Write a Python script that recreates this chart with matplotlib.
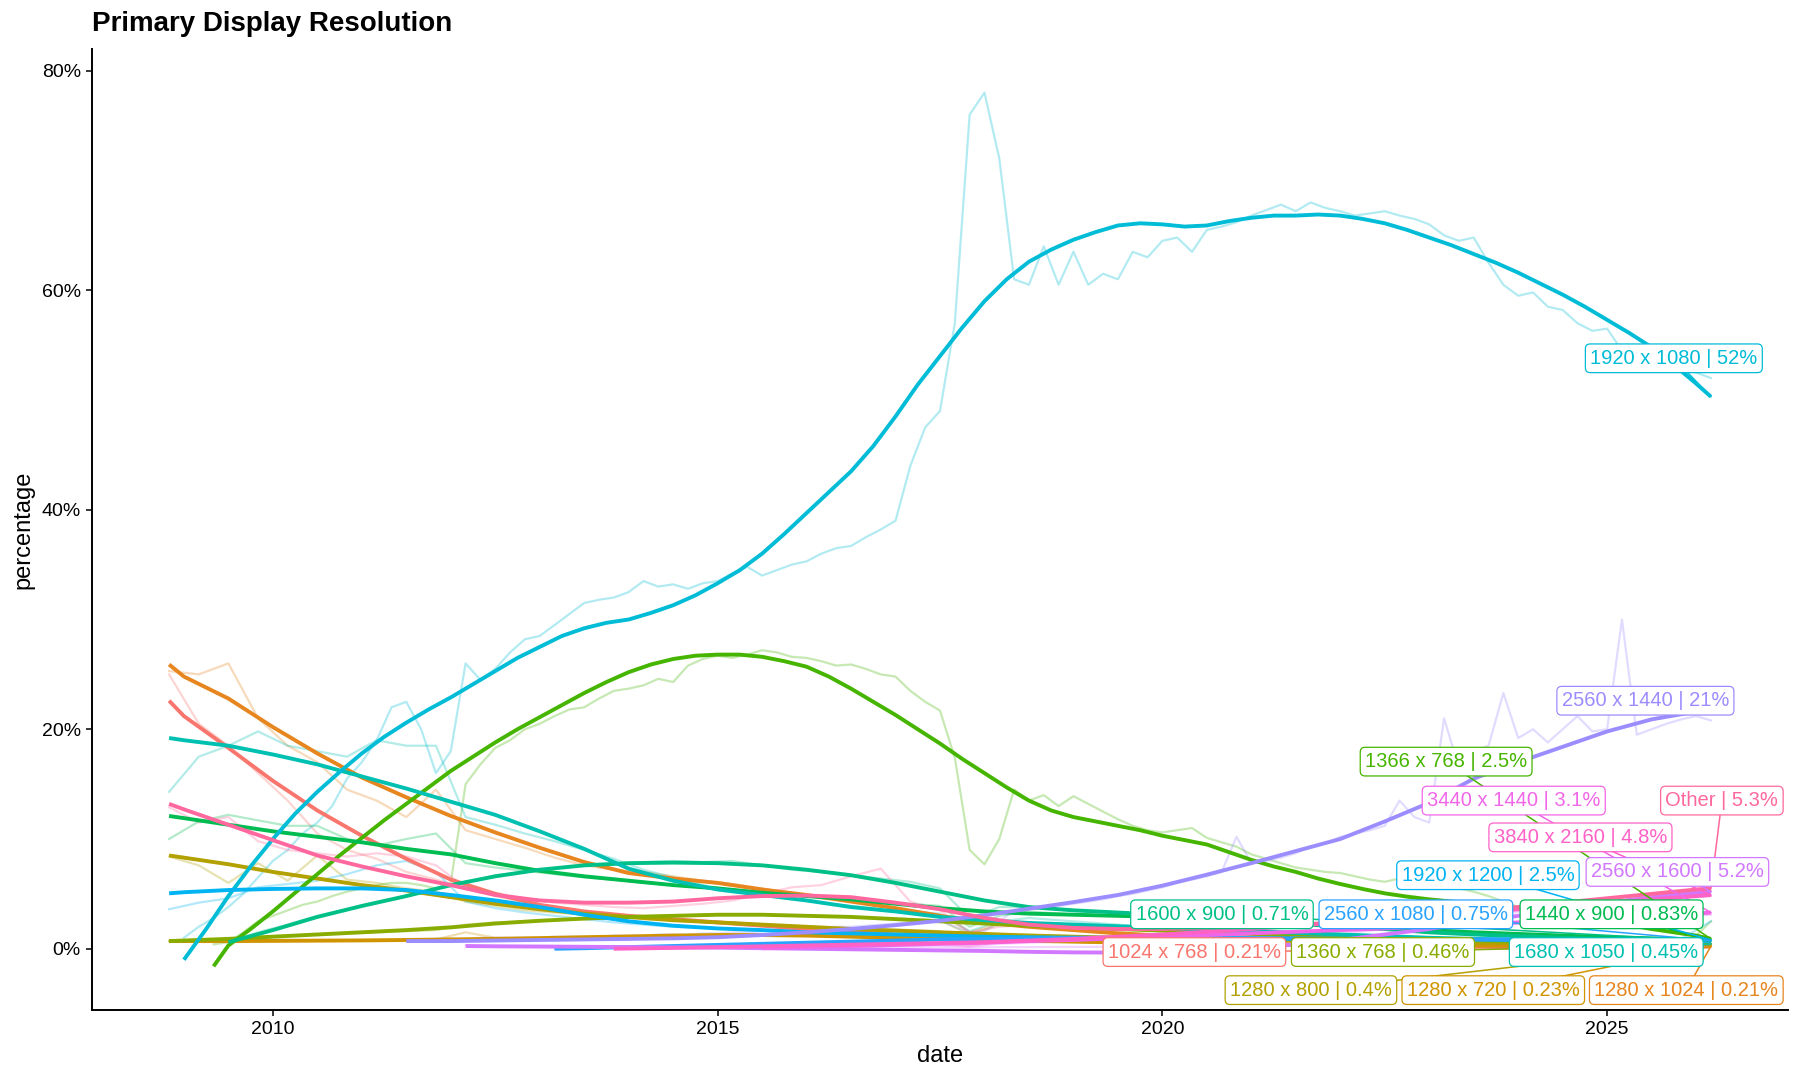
import numpy as np
import matplotlib
matplotlib.use("Agg")
import matplotlib.pyplot as plt

plt.rcParams['font.family'] = ['Liberation Sans', 'DejaVu Sans']

# last survey month, every series ends here
END = 2026 + 2/12

names = ["1024 x 768", "1280 x 1024", "1280 x 720", "1280 x 800", "1360 x 768",
         "1366 x 768", "1440 x 900", "1600 x 900", "1680 x 1050", "1920 x 1080",
         "1920 x 1200", "2560 x 1080", "2560 x 1440", "2560 x 1600", "3440 x 1440",
         "3840 x 2160", "Other"]

########################################
# monthly survey share (%)
# step of 1/6 year for the three big ones, 1/3 year for the rest
########################################
raw_1024x768 = [25.0,
    20.5, 18.5, 16.0, 13.5, 10.5, 9.0, 8.2, 7.0, 6.3, 5.5, 4.8, 4.2,
    3.7, 3.4, 3.1, 2.9, 2.7, 2.5, 2.4, 2.2, 2.0, 1.8, 1.6, 1.45,
    1.3, 1.2, 0.6, 0.95, 0.9, 0.8, 0.7, 0.65, 0.6, 0.55, 0.5, 0.48,
    0.45, 0.42, 0.4, 0.37, 0.35, 0.33, 0.3, 0.29, 0.28, 0.27, 0.26, 0.25,
    0.24, 0.23, 0.22, 0.21]
raw_1280x1024 = [25.3,
    25.0, 26.0, 21.0, 18.5, 17.0, 14.5, 13.5, 12.0, 14.5, 10.8, 10.0, 9.2,
    8.3, 7.6, 7.2, 7.0, 6.6, 6.2, 5.9, 5.5, 5.0, 4.7, 4.3, 3.9,
    3.5, 3.1, 1.5, 2.3, 2.1, 1.9, 1.7, 1.5, 1.3, 1.2, 1.1, 1.0,
    0.92, 0.85, 0.78, 0.7, 0.65, 0.6, 0.55, 0.5, 0.45, 0.4, 0.37, 0.34,
    0.3, 0.27, 0.24, 0.21]
raw_1280x720 = [0.7,
    0.7, 0.7, 0.7, 0.75, 0.75, 0.75, 0.8, 0.8, 0.85, 1.5, 1.0, 0.95,
    1.0, 1.05, 1.1, 1.15, 1.2, 1.25, 1.3, 1.3, 1.25, 1.2, 1.15, 1.05,
    1.0, 0.95, 0.5, 0.8, 0.75, 0.7, 0.65, 0.6, 0.55, 0.52, 0.48, 0.45,
    0.43, 0.4, 0.38, 0.36, 0.34, 0.33, 0.32, 0.3, 0.29, 0.28, 0.27, 0.26,
    0.25, 0.24, 0.24, 0.23]
raw_1280x800 = [8.4,
    7.6, 6.0, 7.8, 6.2, 8.5, 6.3, 6.0, 5.5, 5.2, 4.3, 3.9, 3.5,
    3.3, 3.1, 2.9, 2.7, 2.6, 2.5, 2.4, 2.2, 2.1, 2.0, 1.9, 1.8,
    1.7, 1.6, 0.8, 1.3, 1.3, 1.2, 1.1, 1.05, 1.0, 0.95, 0.9, 0.85,
    0.8, 0.78, 0.75, 0.72, 0.68, 0.65, 0.6, 0.57, 0.55, 0.52, 0.5, 0.47,
    0.45, 0.43, 0.42, 0.4]
raw_1360x768 = [0.7,
    0.75, 0.85, 1.0, 1.2, 1.3, 1.4, 1.5, 1.6, 1.7, 2.2, 2.4, 2.5,
    2.6, 2.7, 2.8, 2.9, 3.0, 3.1, 3.1, 3.1, 3.0, 3.0, 2.9, 2.8,
    2.7, 2.6, 1.3, 2.2, 2.1, 2.0, 1.9, 1.8, 1.7, 1.6, 1.5, 1.4,
    1.3, 1.2, 1.15, 1.05, 0.95, 0.9, 0.8, 0.75, 0.7, 0.65, 0.6, 0.57,
    0.54, 0.5, 0.48, 0.46]
raw_1366x768 = [0.4, 0.6, 1.5, 2.5,
    3.0, 3.5, 4.0, 4.3, 4.8, 5.2,
    5.5, 5.8, 6.0, 6.0, 5.8, 5.5,
    6.0, 15.0, 16.8, 18.3, 19.0, 20.0,
    20.5, 21.2, 21.8, 22.0, 22.8, 23.5,
    23.7, 24.0, 24.6, 24.3, 25.8, 26.4,
    26.7, 26.5, 26.8, 27.2, 27.0, 26.6,
    26.5, 26.2, 25.8, 25.9, 25.5, 25.0,
    24.8, 23.5, 22.5, 21.7, 17.4, 9.0,
    7.7, 10.0, 14.5, 13.5, 14.0, 13.0,
    13.9, 13.2, 12.5, 11.8, 11.2, 10.8,
    10.6, 10.8, 11.0, 10.1, 9.7, 9.3,
    8.6, 8.2, 7.8, 7.4, 7.2, 7.0,
    6.9, 6.6, 6.3, 6.1, 6.4, 5.7,
    5.5, 5.6, 5.5, 5.2, 4.8, 4.3,
    3.8, 3.6, 3.4, 3.2, 3.0, 2.8,
    2.5, 2.3, 2.1, 1.8, 1.6, 1.4,
    1.2, 2.5]
raw_1440x900 = [10.0,
    11.6, 12.2, 11.7, 11.2, 11.2, 10.0, 9.4, 10.0, 10.5, 7.8, 7.4, 7.1,
    6.8, 6.5, 6.3, 6.0, 5.8, 5.6, 5.4, 5.1, 4.9, 4.7, 4.5, 4.3,
    4.1, 3.9, 2.0, 3.0, 3.4, 3.2, 3.1, 3.0, 2.9, 2.85, 2.7, 2.6,
    2.45, 2.3, 2.2, 2.05, 1.9, 1.8, 1.65, 1.5, 1.4, 1.3, 1.2, 1.1,
    1.0, 0.95, 0.88, 0.83]
raw_1600x900 = [0.6, 1.5,
    2.2, 3.0, 3.6, 4.2, 4.8, 5.4, 6.0, 6.7, 7.0,
    7.3, 7.6, 7.7, 7.9, 8.0, 7.9, 8.0, 7.6, 7.2, 7.0, 6.7, 6.4,
    6.1, 5.5, 2.8, 3.8, 3.8, 3.6, 3.4, 3.3, 3.2, 3.0, 2.9, 2.7,
    2.5, 2.3, 2.1, 2.0, 1.8, 1.65, 1.5, 1.35, 1.25, 1.1, 1.0, 0.95,
    0.88, 0.82, 0.76, 0.71]
raw_1680x1050 = [14.3,
    17.5, 18.5, 19.8, 18.5, 18.0, 17.5, 19.0, 18.5, 18.5, 12.0, 11.3, 10.5,
    9.8, 9.0, 8.2, 7.2, 6.5, 5.8, 5.3, 4.9, 4.5, 4.2, 3.9, 3.6,
    3.4, 3.2, 1.6, 2.5, 2.8, 2.6, 2.4, 2.2, 2.0, 1.9, 1.8, 1.7,
    1.6, 1.5, 1.4, 1.3, 1.2, 1.1, 1.0, 0.9, 0.85, 0.8, 0.7, 0.65,
    0.6, 0.55, 0.5, 0.45]
raw_1920x1080 = [1.0, 2.0, 2.8, 3.8, 5.0, 6.5,
    8.0, 9.0, 10.5, 11.5, 13.0, 15.5,
    17.0, 19.0, 22.0, 22.5, 20.0, 16.0,
    18.0, 26.0, 24.5, 25.5, 27.0, 28.2,
    28.5, 29.5, 30.5, 31.5, 31.8, 32.0,
    32.5, 33.5, 33.0, 33.2, 32.8, 33.3,
    33.5, 34.2, 34.8, 34.0, 34.5, 35.0,
    35.3, 36.0, 36.5, 36.7, 37.5, 38.2,
    39.0, 44.0, 47.5, 49.0, 57.0, 76.0,
    78.0, 72.0, 61.0, 60.5, 64.0, 60.5,
    63.5, 60.5, 61.5, 61.0, 63.5, 63.0,
    64.5, 64.8, 63.5, 65.5, 65.8, 66.2,
    66.8, 67.3, 67.8, 67.2, 68.0, 67.5,
    67.2, 66.8, 67.0, 67.2, 66.8, 66.5,
    66.0, 65.0, 64.5, 64.8, 62.5, 60.5,
    59.5, 59.8, 58.5, 58.2, 57.0, 56.3,
    56.5, 54.5, 55.0, 54.0, 53.5, 53.0,
    52.5, 52.0]
raw_1920x1200 = [3.6,
    4.2, 4.6, 5.6, 5.9, 6.2, 6.8, 7.6, 8.0, 7.0, 4.3, 3.7, 3.3,
    3.0, 2.7, 2.4, 2.2, 2.0, 1.9, 1.8, 1.7, 1.6, 1.5, 1.45, 1.4,
    1.3, 1.25, 0.7, 1.1, 1.05, 1.0, 1.0, 0.98, 0.96, 0.95, 0.93, 0.92,
    0.9, 0.9, 0.9, 0.9, 0.88, 0.87, 0.86, 0.85, 0.85, 0.84, 0.83, 0.83,
    0.82, 0.81, 0.9, 2.5]
raw_2560x1080 = [0.02, 0.05, 0.1,
    0.15, 0.2, 0.25, 0.3, 0.35, 0.4, 0.5, 0.55, 0.6,
    0.7, 0.8, 0.4, 0.9, 0.95, 0.95, 1.0, 1.0, 1.0, 1.0, 1.0, 0.98,
    0.97, 0.95, 0.93, 0.92, 0.9, 0.88, 0.87, 0.85, 0.84, 0.82, 0.81, 0.8,
    0.79, 0.78, 0.77, 0.75]
raw_2560x1440 = [0.8, 0.8, 0.9,
    0.9, 0.9, 1.0, 1.0, 1.0, 1.0,
    1.0, 1.1, 1.1, 1.1, 1.1, 1.2,
    1.2, 1.2, 1.3, 1.3, 1.3, 1.4,
    1.4, 1.5, 1.5, 1.6, 1.7, 1.7,
    1.8, 1.9, 2.0, 2.0, 2.1, 2.2,
    2.3, 2.4, 2.5, 2.6, 2.0, 1.5,
    1.6, 2.5, 3.5, 3.6, 3.7, 3.9,
    4.1, 4.3, 4.5, 4.8, 5.0, 5.3,
    5.6, 6.0, 6.3, 6.6, 7.0, 10.2,
    7.8, 8.0, 8.3, 8.7, 9.3, 9.6,
    10.2, 10.5, 10.8, 11.2, 13.5, 12.0,
    11.5, 21.0, 16.5, 18.0, 18.5, 23.3,
    19.2, 20.0, 18.8, 20.0, 21.2, 19.8,
    20.0, 30.0, 19.5, 20.0, 20.5, 20.9,
    21.2, 20.8]
raw_2560x1600 = [0.3, 0.28, 0.26,
    0.25, 0.24, 0.23, 0.22, 0.21, 0.2, 0.2, 0.19, 0.18,
    0.18, 0.17, 0.17, 0.16, 0.16, 0.1, 0.15, 0.15, 0.16, 0.17, 0.2, 0.25,
    0.3, 0.4, 0.55, 0.75, 0.95, 1.2, 1.5, 1.8, 2.1, 2.4, 2.8, 3.2,
    3.5, 3.8, 4.1, 4.4, 4.7, 4.9, 5.2]
raw_3440x1440 = [0.05, 0.1,
    0.15, 0.2, 0.25, 0.3, 0.35, 0.2, 0.45, 0.55, 0.65, 0.75, 0.85, 0.95,
    1.05, 1.15, 1.25, 1.35, 1.45, 1.55, 1.7, 1.8, 1.9, 2.0, 2.1, 2.2,
    2.35, 2.5, 2.6, 2.7, 2.85, 2.95, 3.1]
raw_3840x2160 = [0.02,
    0.05, 0.08, 0.12, 0.15, 0.2, 0.25, 0.3, 0.35, 0.4, 0.45, 0.5, 0.25,
    0.6, 0.7, 0.8, 0.9, 1.0, 1.15, 1.3, 1.45, 1.6, 1.8, 2.0, 2.2,
    2.4, 2.6, 2.8, 3.0, 3.2, 3.4, 3.6, 3.8, 4.0, 4.2, 4.4, 4.6, 4.8]
raw_other = [12.9,
    11.5, 12.0, 9.8, 9.0, 8.7, 8.4, 8.7, 8.4, 7.6, 5.6, 5.1, 4.6,
    4.2, 4.0, 3.8, 3.7, 3.9, 4.1, 4.4, 5.0, 5.6, 5.8, 6.6, 7.3,
    4.3, 3.5, 1.5, 2.0, 2.2, 1.9, 1.8, 1.7, 1.8, 1.8, 1.9, 2.0,
    2.1, 2.2, 2.4, 2.5, 2.7, 2.9, 3.1, 3.4, 3.6, 3.9, 4.2, 4.5,
    4.7, 5.0, 5.2, 5.3]

raw_step = {"1366 x 768": 1/6, "1920 x 1080": 1/6, "2560 x 1440": 1/6}

########################################
# smoothed trend (%):
# first month, then every half year (quarter for the two big curves), then the last month
########################################
trend_1024x768 = [22.6, 21.2, 18.3, 15.3, 12.6, 10.3, 8.2, 6.3, 5.0, 4.0, 3.4,
    3.0, 2.7, 2.4, 2.1, 1.8, 1.55, 1.3, 1.1, 0.95, 0.8, 0.7, 0.6, 0.5, 0.45,
    0.4, 0.35, 0.32, 0.29, 0.26, 0.24, 0.22, 0.2, 0.19, 0.19, 0.2, 0.2]
trend_1280x1024 = [25.9, 24.8, 22.8, 20.2, 17.8, 15.6, 13.8, 12.1, 10.6, 9.2, 7.9,
    6.9, 6.4, 6.0, 5.4, 4.9, 4.3, 3.7, 3.0, 2.4, 2.0, 1.7, 1.4, 1.2, 1.05,
    0.92, 0.8, 0.7, 0.62, 0.55, 0.48, 0.42, 0.37, 0.32, 0.28, 0.25, 0.24]
trend_1280x720 = [0.7, 0.7, 0.7, 0.72, 0.74, 0.76, 0.8, 0.85, 0.9, 0.97, 1.05,
    1.12, 1.2, 1.25, 1.25, 1.2, 1.1, 1.0, 0.9, 0.8, 0.72, 0.65, 0.58, 0.52, 0.47,
    0.43, 0.4, 0.37, 0.34, 0.32, 0.3, 0.28, 0.26, 0.25, 0.24, 0.23, 0.23]
trend_1280x800 = [8.5, 8.3, 7.7, 7.0, 6.4, 5.8, 5.3, 4.7, 4.1, 3.6, 3.2,
    2.9, 2.6, 2.4, 2.2, 2.0, 1.8, 1.65, 1.5, 1.35, 1.2, 1.1, 1.0, 0.9, 0.85,
    0.8, 0.75, 0.7, 0.65, 0.6, 0.55, 0.5, 0.47, 0.44, 0.42, 0.4, 0.4]
trend_1360x768 = [0.7, 0.75, 0.9, 1.1, 1.3, 1.5, 1.7, 1.95, 2.3, 2.55, 2.75,
    2.9, 3.0, 3.1, 3.1, 3.0, 2.9, 2.7, 2.5, 2.3, 2.1, 1.95, 1.8, 1.65, 1.5,
    1.35, 1.2, 1.1, 0.95, 0.85, 0.75, 0.65, 0.6, 0.55, 0.5, 0.47, 0.46]
trend_1366x768 = [-1.6, 0.3, 1.8,
    3.4, 5.1, 6.8, 8.5,
    10.1, 11.7, 13.2, 14.7,
    16.2, 17.5, 18.8, 20.0,
    21.1, 22.2, 23.3, 24.3,
    25.2, 25.9, 26.4, 26.7,
    26.8, 26.8, 26.6, 26.2,
    25.7, 24.8, 23.7, 22.5,
    21.3, 20.0, 18.7, 17.3,
    16.0, 14.7, 13.5, 12.6,
    12.0, 11.6, 11.2, 10.8,
    10.3, 9.9, 9.5, 8.8,
    8.1, 7.5, 7.0, 6.4,
    5.9, 5.45, 5.05, 4.75,
    4.5, 4.3, 4.1, 3.9,
    3.7, 3.45, 3.2, 2.9,
    2.5, 2.15, 1.8, 1.5,
    1.2, 0.9]
trend_1440x900 = [12.1, 11.9, 11.3, 10.7, 10.2, 9.7, 9.1, 8.6, 7.8, 7.1, 6.6,
    6.2, 5.8, 5.5, 5.1, 4.8, 4.5, 4.1, 3.7, 3.4, 3.2, 3.1, 3.0, 2.9, 2.7,
    2.5, 2.3, 2.1, 1.9, 1.7, 1.5, 1.35, 1.2, 1.05, 0.95, 0.85, 0.83]
trend_1600x900 = [0.6, 1.7, 2.9, 3.9, 4.8, 5.8, 6.6, 7.2, 7.6, 7.8, 7.85,
    7.8, 7.6, 7.2, 6.7, 6.0, 5.2, 4.4, 3.8, 3.5, 3.3, 3.1, 2.9, 2.6, 2.3,
    2.0, 1.8, 1.5, 1.3, 1.15, 1.0, 0.9, 0.8, 0.72, 0.71]
trend_1680x1050 = [19.2, 19.0, 18.5, 17.7, 16.8, 15.7, 14.6, 13.4, 12.2, 10.7, 9.1,
    7.3, 6.2, 5.4, 4.9, 4.4, 3.8, 3.4, 2.9, 2.6, 2.35, 2.2, 2.05, 1.9, 1.75,
    1.6, 1.45, 1.3, 1.15, 1.0, 0.9, 0.8, 0.7, 0.6, 0.5, 0.45, 0.45]
trend_1920x1080 = [-1.0, 1.8, 4.8, 7.5,
    10.0, 12.3, 14.3, 16.1,
    17.8, 19.3, 20.6, 21.8,
    22.9, 24.1, 25.3, 26.5,
    27.5, 28.5, 29.2, 29.7,
    30.0, 30.6, 31.3, 32.2,
    33.3, 34.5, 36.0, 37.8,
    39.7, 41.6, 43.5, 45.8,
    48.5, 51.4, 54.0, 56.6,
    59.0, 61.0, 62.6, 63.7,
    64.6, 65.3, 65.9, 66.1,
    66.0, 65.8, 65.9, 66.3,
    66.6, 66.8, 66.8, 66.9,
    66.8, 66.5, 66.1, 65.5,
    64.8, 64.1, 63.3, 62.5,
    61.6, 60.6, 59.6, 58.5,
    57.3, 56.1, 54.8, 53.2,
    51.5, 50.3]
trend_1920x1200 = [5.05, 5.15, 5.35, 5.45, 5.5, 5.5, 5.35, 4.9, 4.4, 3.8, 3.1,
    2.5, 2.1, 1.85, 1.7, 1.5, 1.4, 1.3, 1.2, 1.1, 1.05, 1.0, 0.98, 0.95, 0.93,
    0.9, 0.9, 0.9, 0.88, 0.86, 0.85, 0.84, 0.83, 0.82, 0.81, 0.8, 0.8]
trend_2560x1080 = [0.0, 0.05, 0.15, 0.25, 0.35, 0.45, 0.55, 0.65, 0.75, 0.85,
    0.9, 0.95, 1.0, 1.0, 1.0, 1.0, 0.98, 0.95, 0.92, 0.9, 0.87, 0.85,
    0.82, 0.8, 0.78, 0.77, 0.76, 0.75]
trend_2560x1440 = [0.7, 0.7, 0.75, 0.8, 0.85, 0.9, 0.95, 1.05, 1.25, 1.5, 1.8,
    2.15, 2.55, 3.05, 3.65, 4.25, 4.9, 5.75, 6.75, 7.8, 8.9, 10.0, 11.6,
    13.3, 15.5, 17.0, 18.4, 19.8, 20.9, 21.6, 21.8]
trend_2560x1600 = [0.25, 0.22, 0.2, 0.18, 0.15, 0.12, 0.1, 0.05, 0.0, -0.05,
    -0.1, -0.15, -0.2, -0.28, -0.33, -0.35, -0.3, -0.15, 0.1, 0.4, 0.8, 1.3,
    1.8, 2.4, 3.0, 3.6, 4.2, 4.7, 5.1, 5.2]
trend_3440x1440 = [0.05, 0.15, 0.25, 0.35, 0.45, 0.55, 0.7, 0.8, 0.95, 1.1,
    1.25, 1.4, 1.55, 1.7, 1.85, 2.05, 2.2, 2.4, 2.6, 2.8, 3.0, 3.2, 3.3]
trend_3840x2160 = [0.0, 0.02, 0.08, 0.15, 0.22, 0.3, 0.38, 0.45, 0.52, 0.6,
    0.75, 0.9, 1.1, 1.3, 1.55, 1.8, 2.1, 2.4, 2.7, 3.0, 3.3, 3.6, 3.9,
    4.2, 4.5, 4.8, 4.9]
trend_other = [13.2, 12.7, 11.3, 9.9, 8.5, 7.5, 6.6, 5.8, 4.9, 4.4, 4.2,
    4.2, 4.3, 4.6, 4.8, 4.85, 4.7, 4.2, 3.6, 2.8, 2.2, 1.9, 1.8, 1.8, 1.9,
    2.0, 2.2, 2.4, 2.7, 3.0, 3.4, 3.8, 4.2, 4.6, 5.0, 5.4, 5.5]

trend_step = {"1366 x 768": 0.25, "1920 x 1080": 0.25}

raw = [raw_1024x768, raw_1280x1024, raw_1280x720, raw_1280x800, raw_1360x768,
       raw_1366x768, raw_1440x900, raw_1600x900, raw_1680x1050, raw_1920x1080,
       raw_1920x1200, raw_2560x1080, raw_2560x1440, raw_2560x1600, raw_3440x1440,
       raw_3840x2160, raw_other]
trend = [trend_1024x768, trend_1280x1024, trend_1280x720, trend_1280x800, trend_1360x768,
         trend_1366x768, trend_1440x900, trend_1600x900, trend_1680x1050, trend_1920x1080,
         trend_1920x1200, trend_2560x1080, trend_2560x1440, trend_2560x1600, trend_3440x1440,
         trend_3840x2160, trend_other]

# where the repelled labels ended up (label centre, data units)
label_pos = {
    "1920 x 1080": (2025.75, 53.8), "2560 x 1440": (2025.43, 22.6),
    "1366 x 768": (2023.19, 17.05), "3440 x 1440": (2023.95, 13.5),
    "Other": (2026.29, 13.5), "3840 x 2160": (2024.70, 10.15),
    "1920 x 1200": (2023.66, 6.7), "2560 x 1600": (2025.79, 7.0),
    "1600 x 900": (2020.67, 3.14), "2560 x 1080": (2022.85, 3.14),
    "1440 x 900": (2025.05, 3.14), "1024 x 768": (2020.36, -0.3),
    "1360 x 768": (2022.48, -0.3), "1680 x 1050": (2024.99, -0.3),
    "1280 x 800": (2021.67, -3.77), "1280 x 720": (2023.72, -3.77),
    "1280 x 1024": (2025.89, -3.77),
}


def hue_pal(n, c=100, l=65, h0=15):
    # ggplot's default hcl hues
    Xn, Yn, Zn = 95.047, 100.0, 108.883
    den = Xn + 15*Yn + 3*Zn
    un, vn = 4*Xn/den, 9*Yn/den
    Y = Yn*((l + 16)/116)**3
    M = np.array([[3.240479, -1.537150, -0.498535],
                  [-0.969256, 1.875992, 0.041556],
                  [0.055648, -0.204043, 1.057311]])
    cols = []
    for i in range(n):
        h = np.deg2rad(h0 + 360*i/n)
        up = c*np.cos(h)/(13*l) + un
        vp = c*np.sin(h)/(13*l) + vn
        X = 9*Y*up/(4*vp)
        Z = -X/3 - 5*Y + 3*Y/vp
        rgb = M @ (np.array([X, Y, Z])/100)
        rgb = np.where(rgb <= 0.0031308, 12.92*rgb, 1.055*np.abs(rgb)**(1/2.4) - 0.055)
        cols.append(tuple(np.clip(rgb, 0, 1)))
    return cols


def trend_dates(t0, t1, step):
    grid = np.arange(np.ceil(t0/step)*step, t1, step)
    grid = grid[(grid > t0 + 0.05) & (grid < t1 - 0.05)]
    return np.concatenate([[t0], grid, [t1]])


colors = hue_pal(len(names))

series = []
for nm, r, t in zip(names, raw, trend):
    rx = END - raw_step.get(nm, 1/3)*np.arange(len(r))[::-1]
    tx = trend_dates(rx[0], END, trend_step.get(nm, 0.5))
    assert len(tx) == len(t), (nm, len(tx), len(t))
    series.append((nm, rx, np.array(r), tx, np.array(t)))

fig = plt.figure(figsize=(18, 10.8), dpi=100)
ax = fig.add_axes([92/1800, 1 - 1010/1080, (1788 - 92)/1800, (1010 - 49)/1080])

for (nm, rx, ry, tx, ty), c in zip(series, colors):
    ax.plot(rx, ry, color=c, alpha=0.3, lw=1.6, solid_joinstyle='round', zorder=2)
for (nm, rx, ry, tx, ty), c in zip(series, colors):
    ax.plot(tx, ty, color=c, lw=2.8, solid_capstyle='butt', solid_joinstyle='round', zorder=3)

for (nm, rx, ry, tx, ty), c in zip(series, colors):
    lx, ly = label_pos[nm]
    ax.plot([lx, tx[-1]], [ly, ty[-1]], color=c, lw=1.1, zorder=4)
    ax.text(lx, ly, "%s | %s%%" % (nm, format(ry[-1], '.2g')), color=c, fontsize=14.5,
            ha='center', va='center', zorder=5,
            bbox=dict(boxstyle='round,pad=0.24', fc='white', ec=c, lw=0.9))

# ggplot style 5% expansion
allx = np.concatenate([s[1] for s in series])
ally = np.concatenate([np.concatenate([s[2], s[4]]) for s in series])
dx = allx.max() - allx.min()
dy = ally.max() - ally.min()
ax.set_xlim(allx.min() - 0.05*dx, allx.max() + 0.05*dx)
ax.set_ylim(ally.min() - 0.05*dy, ally.max() + 0.05*dy)

ax.set_xticks([2010, 2015, 2020, 2025])
ax.set_yticks([0, 20, 40, 60, 80])
ax.set_yticklabels(["%d%%" % v for v in [0, 20, 40, 60, 80]])
ax.tick_params(length=4, width=1.1, color='black', labelsize=14, labelcolor='black', pad=4)
for s in ['top', 'right']:
    ax.spines[s].set_visible(False)
for s in ['left', 'bottom']:
    ax.spines[s].set_linewidth(1.4)
    ax.spines[s].set_color('black')

fig.text(92/1800, 1 - 31/1080, "Primary Display Resolution", fontsize=20,
         fontweight='bold', ha='left', va='baseline')
fig.text((92 + 1788)/2/1800, 1 - 1056/1080, "date", fontsize=17, ha='center', va='center')
fig.text(23/1800, 1 - 529.5/1080, "percentage", fontsize=17, rotation=90,
         ha='center', va='center')

fig.savefig('out.png', dpi=100)
